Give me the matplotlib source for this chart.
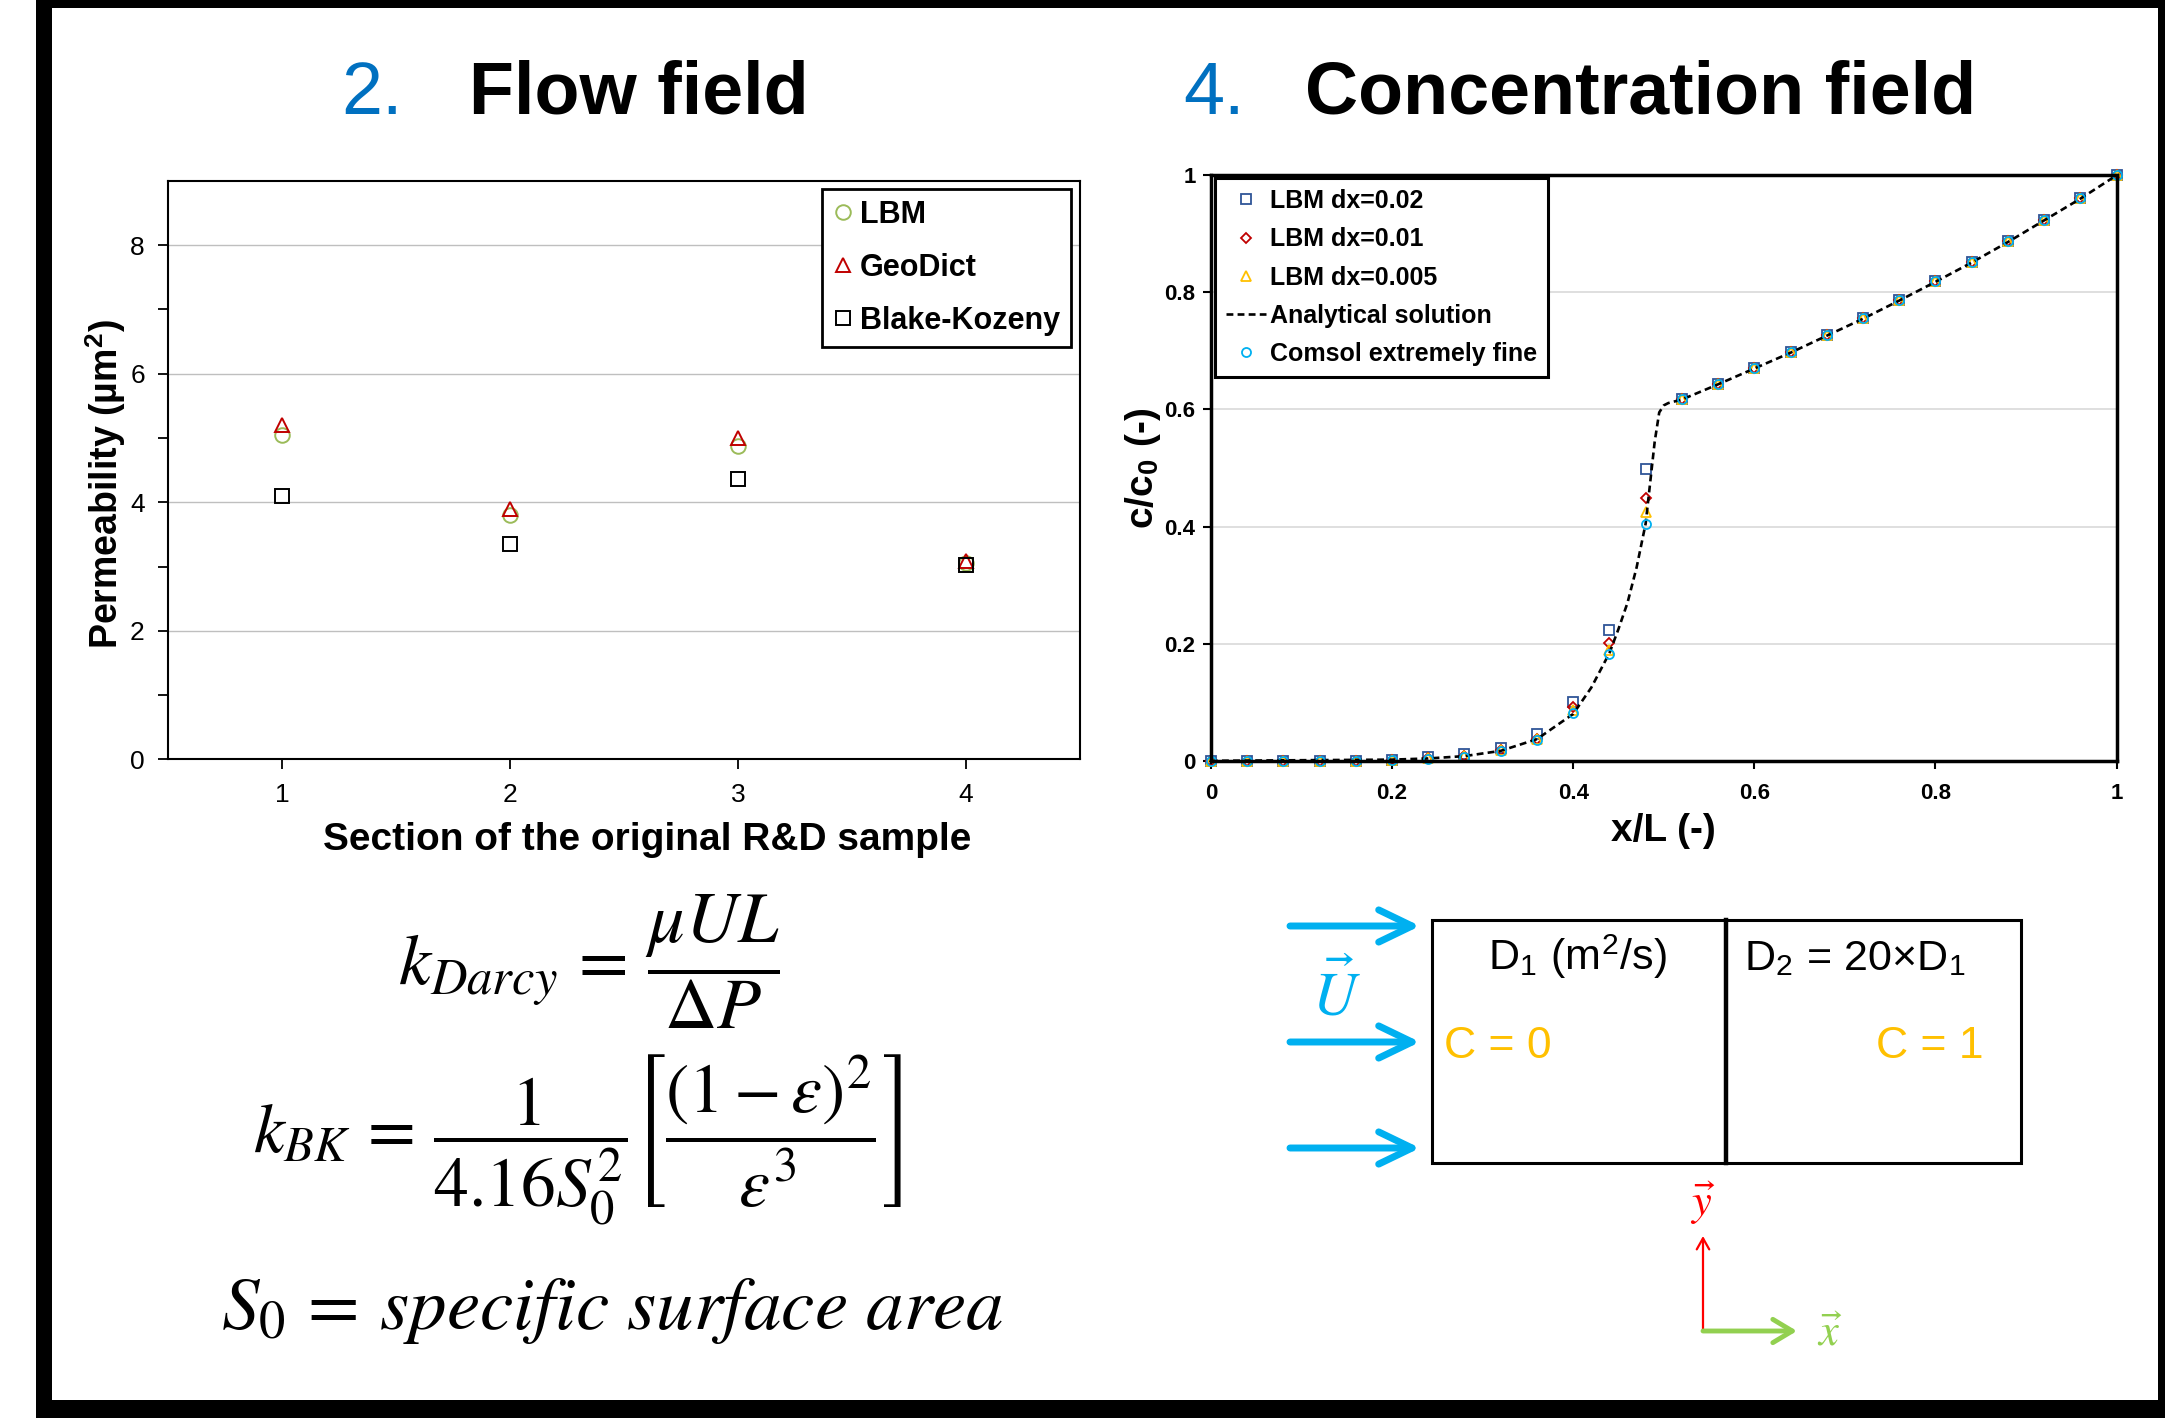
import matplotlib
matplotlib.use('Agg')
import matplotlib.pyplot as plt
from matplotlib.patches import Rectangle, FancyArrowPatch

plt.rcParams['font.family'] = ['Liberation Sans', 'DejaVu Sans']
plt.rcParams['mathtext.fontset'] = 'stix'

# ---------------- data: flow field ----------------
sections = [1, 2, 3, 4]
perm_lbm = [5.05, 3.80, 4.87, 3.06]
perm_geodict = [5.21, 3.89, 5.00, 3.09]
perm_bk = [4.10, 3.35, 4.36, 3.03]
perm_yticks = [0, 2, 4, 6, 8]
perm_minor = [1, 3, 5, 7]

# ---------------- data: concentration field ----------------
x_pos = [0.00, 0.04, 0.08, 0.12, 0.16, 0.20, 0.24, 0.28, 0.32, 0.36, 0.40, 0.44, 0.48,
         0.52, 0.56, 0.60, 0.64, 0.68, 0.72, 0.76, 0.80, 0.84, 0.88, 0.92, 0.96, 1.00]
c_lbm_002 = [0, 0, 0, 0, 0, 0.001, 0.006, 0.011, 0.022, 0.045, 0.100, 0.223, 0.499,
             0.618, 0.644, 0.671, 0.698, 0.727, 0.756, 0.787, 0.819, 0.852, 0.887, 0.924, 0.961, 1.0]
c_lbm_001 = [0, 0, 0, 0, 0, 0.001, 0.004, 0.009, 0.019, 0.038, 0.092, 0.201, 0.448,
             0.618, 0.644, 0.671, 0.698, 0.727, 0.756, 0.787, 0.819, 0.852, 0.887, 0.924, 0.961, 1.0]
c_lbm_0005 = [0, 0, 0, 0, 0, 0.001, 0.004, 0.008, 0.018, 0.037, 0.086, 0.190, 0.425,
              0.618, 0.644, 0.671, 0.698, 0.727, 0.756, 0.787, 0.819, 0.852, 0.887, 0.924, 0.961, 1.0]
c_comsol = [0, 0, 0, 0, 0, 0.001, 0.003, 0.007, 0.017, 0.036, 0.082, 0.183, 0.405,
            0.618, 0.644, 0.671, 0.698, 0.727, 0.756, 0.787, 0.819, 0.852, 0.887, 0.924, 0.961, 1.0]
ana_x = [0.0, 0.20, 0.24, 0.28, 0.32, 0.36, 0.40, 0.42, 0.44, 0.45, 0.46, 0.47, 0.48, 0.485,
         0.49, 0.495, 0.50, 0.505, 0.52, 0.56, 0.60, 0.64, 0.68, 0.72, 0.76, 0.80, 0.84, 0.88,
         0.92, 0.96, 1.0]
ana_y = [0.0, 0.002, 0.004, 0.008, 0.017, 0.037, 0.080, 0.125, 0.184, 0.225, 0.270, 0.330,
         0.405, 0.475, 0.545, 0.595, 0.607, 0.611, 0.617, 0.643, 0.670, 0.697, 0.726, 0.755,
         0.786, 0.818, 0.851, 0.886, 0.923, 0.960, 1.0]
conc_ticks = [0, 0.2, 0.4, 0.6, 0.8, 1.0]
conc_ticklabels = ['0', '0.2', '0.4', '0.6', '0.8', '1']

W, H = 2165, 1418
fig = plt.figure(figsize=(W / 100, H / 100), dpi=100)

# overlay axes in pixel coordinates for titles, equations, diagram, frame
ov = fig.add_axes([0, 0, 1, 1], zorder=0)
ov.set_xlim(0, W)
ov.set_ylim(H, 0)
ov.axis('off')

# frame
for (x0, y0, w, h) in [(36, 0, 16, H), (36, 0, W - 36, 8), (2158, 0, 7, H), (36, 1400, W - 36, 18)]:
    ov.add_patch(Rectangle((x0, y0), w, h, color='black', lw=0, clip_on=False))

# titles
blue_num = '#0070C0'
ov.text(341, 114, '2.', color=blue_num, fontsize=53, va='baseline', ha='left')
ov.text(469, 114, 'Flow field', color='black', fontsize=53, fontweight='bold', va='baseline', ha='left')
ov.text(1183, 114, '4.', color=blue_num, fontsize=53, va='baseline', ha='left')
ov.text(1305, 114, 'Concentration field', color='black', fontsize=53, fontweight='bold',
        va='baseline', ha='left')

# ---------------- left chart ----------------
axL = fig.add_axes([168.4 / W, 1 - 759.4 / H, 911.3 / W, 578.5 / H], zorder=1)
axL.plot(sections, perm_lbm, ls='none', marker='o', ms=10.5, mfc='none', mec='#9BBB59', mew=1.4,
         label='LBM')
axL.plot(sections, perm_geodict, ls='none', marker='^', ms=10, mfc='none', mec='#C00000', mew=1.4,
         label='GeoDict')
axL.plot(sections, perm_bk, ls='none', marker='s', ms=9.5, mfc='none', mec='black', mew=1.4,
         label='Blake-Kozeny')
axL.set_xlim(0.5, 4.5)
axL.set_ylim(0, 9)
axL.set_xticks(sections)
axL.set_yticks(perm_yticks)
axL.set_yticks(perm_minor, minor=True)
axL.yaxis.grid(True, which='major', color='#BFBFBF', lw=1.0)
axL.set_axisbelow(True)
axL.tick_params(which='both', direction='out', length=7, width=1.3, labelsize=19, pad=10)
for s in axL.spines.values():
    s.set_linewidth(1.5)
axL.text(0.525, (759.4 - 850) / 578.5, 'Section of the original R&D sample', transform=axL.transAxes,
         ha='center', va='baseline', fontsize=28, fontweight='bold')
axL.text(-0.0685, 0.476, r'Permeability (µm$^\mathregular{2}$)', transform=axL.transAxes,
         ha='center', va='center', rotation=90, fontsize=27, fontweight='bold')
legL = axL.legend(loc='upper right', bbox_to_anchor=((1071 - 168.4) / 911.3, (759.4 - 189) / 578.5),
                  borderaxespad=0, frameon=True, fancybox=False, edgecolor='black', framealpha=1,
                  prop={'weight': 'bold', 'size': 22}, handlelength=0.7, handletextpad=0.2,
                  labelspacing=0.76, borderpad=0.35, numpoints=1)
legL.get_frame().set_linewidth(2.0)

# ---------------- right chart ----------------
axR = fig.add_axes([1210.9 / W, 1 - 760.8 / H, 905.7 / W, 585.5 / H], zorder=1)
axR.plot(x_pos, c_lbm_002, ls='none', marker='s', ms=7.5, mfc='none', mec='#2F5597', mew=1.3,
         label='LBM dx=0.02', clip_on=False)
axR.plot(x_pos, c_lbm_001, ls='none', marker='D', ms=5.2, mfc='none', mec='#C00000', mew=1.3,
         label='LBM dx=0.01', clip_on=False)
axR.plot(x_pos, c_lbm_0005, ls='none', marker='^', ms=6.8, mfc='none', mec='#FFC000', mew=1.3,
         label='LBM dx=0.005', clip_on=False)
axR.plot(ana_x, ana_y, color='black', lw=1.9, ls=(0, (2.6, 1.6)), label='Analytical solution')
axR.plot(x_pos, c_comsol, ls='none', marker='o', ms=6.5, mfc='none', mec='#00B0F0', mew=1.3,
         label='Comsol extremely fine', clip_on=False)
axR.set_xlim(0, 1)
axR.set_ylim(0, 1)
axR.set_xticks(conc_ticks)
axR.set_xticklabels(conc_ticklabels)
axR.set_yticks(conc_ticks)
axR.set_yticklabels(conc_ticklabels)
axR.yaxis.grid(True, color='#D9D9D9', lw=1.2)
axR.set_axisbelow(True)
axR.tick_params(direction='out', length=6, width=1.5, labelsize=16)
axR.tick_params(axis='x', pad=10)
axR.tick_params(axis='y', pad=5)
for lab in axR.get_xticklabels() + axR.get_yticklabels():
    lab.set_fontweight('bold')
for s in axR.spines.values():
    s.set_linewidth(2.5)
axR.text(0.5, (760.8 - 841) / 585.5, 'x/L (-)', transform=axR.transAxes, ha='center', va='baseline',
         fontsize=28, fontweight='bold')
axR.text(-0.075, 0.5, r'c/c$_\mathregular{0}$ (-)', transform=axR.transAxes, ha='center',
         va='center', rotation=90, fontsize=28, fontweight='bold')
legR = axR.legend(loc='upper left', bbox_to_anchor=((1215 - 1210.9) / 905.7, (760.8 - 178) / 585.5),
                  borderaxespad=0, frameon=True, fancybox=False, edgecolor='black', framealpha=1,
                  prop={'weight': 'bold', 'size': 18}, handlelength=1.6, handletextpad=0.15,
                  labelspacing=0.57, borderpad=0.45, numpoints=1)
legR.get_frame().set_linewidth(2.2)

# ---------------- equations ----------------
ov.text(398, 962, r'$k_{Darcy}\,=\,\dfrac{\mu UL}{\Delta P}$', fontsize=52, ha='left', va='center')
ov.text(253, 1140,
        r'$k_{BK}\,=\,\dfrac{1}{4.16S_0^2}\left[\dfrac{(1-\varepsilon)^2}{\varepsilon^3}\right]$',
        fontsize=50, ha='left', va='center')
ov.text(221, 1329, r'$S_0\,=\,specific\ surface\ area$', fontsize=54, ha='left', va='baseline')

# ---------------- diagram ----------------
ov.add_patch(Rectangle((1432, 920), 2021 - 1432, 1163 - 920, fill=False, ec='black', lw=2.2))
ov.plot([1726, 1726], [920, 1163], color='black', lw=3.2)
cyan = '#00B0F0'
for yy in [926, 1042, 1148]:
    ov.add_patch(FancyArrowPatch((1290, yy), (1420, yy), arrowstyle='->,head_length=1.2,head_width=0.58',
                                 mutation_scale=20, lw=5, color=cyan, shrinkA=0, shrinkB=0,
                                 capstyle='round', joinstyle='round'))
ov.text(1336, 1015, r'$\vec{U}$', color=cyan, fontsize=44, ha='center', va='baseline')
ov.text(1488, 970, r'D$_\mathregular{1}$ (m$^\mathregular{2}$/s)', fontsize=31, ha='left', va='baseline')
ov.text(1744, 970, r'D$_\mathregular{2}$ = 20×D$_\mathregular{1}$', fontsize=31, ha='left', va='baseline')
orange = '#FFC000'
ov.text(1444, 1058, 'C = 0', color=orange, fontsize=32, ha='left', va='baseline')
ov.text(1984, 1058, 'C = 1', color=orange, fontsize=32, ha='right', va='baseline')
# coordinate axes
ov.add_patch(FancyArrowPatch((1703, 1331), (1703, 1236), arrowstyle='->,head_length=0.8,head_width=0.45',
                             mutation_scale=10, lw=1.6, color='#FF0000', shrinkA=0, shrinkB=0))
ov.add_patch(FancyArrowPatch((1703, 1331), (1797, 1331), arrowstyle='->,head_length=1.0,head_width=0.6',
                             mutation_scale=14, lw=3.5, color='#92D050', shrinkA=0, shrinkB=0,
                             capstyle='round'))
ov.text(1703, 1216, r'$\vec{y}$', color='#FF0000', fontsize=32, ha='center', va='baseline')
ov.text(1830, 1346, r'$\vec{x}$', color='#92D050', fontsize=32, ha='center', va='baseline')

fig.savefig('out.png', dpi=100)
